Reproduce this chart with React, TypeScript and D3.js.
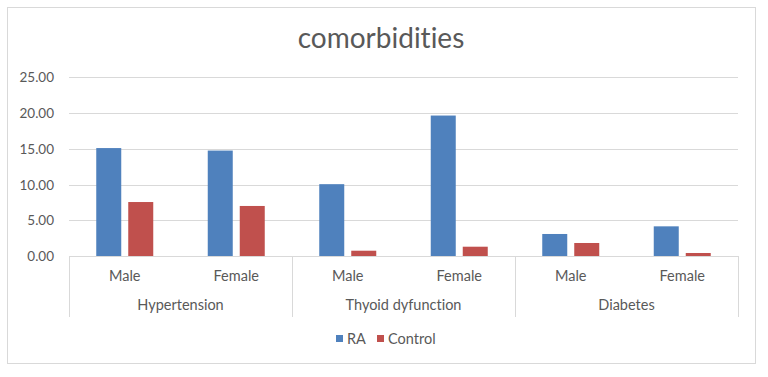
import React from "react";
import * as d3 from "d3";

const groups = ["Hypertension", "Thyoid dyfunction", "Diabetes"];
const subcats = ["Male", "Female"];
const seriesNames = ["RA", "Control"];
const raValues = [15.1, 14.75, 10.05, 19.65, 3.08, 4.15];
const controlValues = [7.55, 7.0, 0.74, 1.3, 1.82, 0.42];
const yTicks = [0, 5, 10, 15, 20, 25];
const colors = ["#4f81bd", "#c0504d"];

const W = 768;
const H = 377;
const plotL = 69;
const plotR = 738;
const plotT = 77.3;
const plotB = 256;
const font = "Lato, 'Open Sans', sans-serif";
const textColor = "#595959";
const noLig = { fontVariantLigatures: "none", fontFeatureSettings: '"liga" 0, "clig" 0, "dlig" 0' } as React.CSSProperties;

export default function App() {
  const y = d3.scaleLinear().domain([0, 25]).range([plotB, plotT]);
  const gx = d3.scaleBand<string>().domain(groups).range([plotL, plotR]).padding(0);
  const sx = d3.scaleBand<string>().domain(subcats).range([0, gx.bandwidth()]).padding(0);
  const barW = 25;
  const gap = 7;
  const series = [raValues, controlValues];

  return (
    <svg width={W} height={H} style={{ position: "absolute", left: 0, top: 0, ...noLig }}>
      <rect x={0} y={0} width={W} height={H} fill="#fff" />
      <rect x={7.5} y={7.5} width={748} height={356} fill="#fff" stroke="#d9d9d9" strokeWidth={1} />
      <text x={381} y={48} textAnchor="middle" fontFamily={font} fontSize={28} fill={textColor} style={noLig}>
        comorbidities
      </text>
      {yTicks.map((t) => (
        <g key={t}>
          {t > 0 && (
            <line x1={plotL} x2={plotR} y1={Math.round(y(t)) + 0.5} y2={Math.round(y(t)) + 0.5} stroke="#d9d9d9" strokeWidth={1} />
          )}
          <text x={54} y={y(t) + 5} textAnchor="end" fontFamily={font} fontSize={13.5} fill={textColor}>
            {t.toFixed(2)}
          </text>
        </g>
      ))}
      {groups.map((g, gi) =>
        subcats.map((s, si) => {
          const idx = gi * 2 + si;
          const cx = (gx(g) as number) + (sx(s) as number) + sx.bandwidth() / 2;
          return (
            <g key={g + s}>
              {series.map((vals, k) => {
                const x0 = cx - (barW * 2 + gap) / 2 + k * (barW + gap);
                return (
                  <rect key={k} x={x0} y={y(vals[idx])} width={barW} height={plotB - y(vals[idx])} fill={colors[k]} />
                );
              })}
              <text x={cx} y={281} textAnchor="middle" fontFamily={font} fontSize={14.5} fill={textColor}>
                {s}
              </text>
            </g>
          );
        })
      )}
      <line x1={plotL} x2={plotR} y1={plotB + 0.5} y2={plotB + 0.5} stroke="#d9d9d9" strokeWidth={1} />
      {[...groups.map((g) => gx(g) as number), plotR].map((xv, i) => (
        <line key={i} x1={Math.round(xv) + 0.5} x2={Math.round(xv) + 0.5} y1={plotB} y2={317} stroke="#d9d9d9" strokeWidth={1} />
      ))}
      {groups.map((g) => (
        <text key={g} x={(gx(g) as number) + gx.bandwidth() / 2} y={310} textAnchor="middle" fontFamily={font} fontSize={14.5} fill={textColor}>
          {g}
        </text>
      ))}
      {seriesNames.map((n, i) => {
        const lx = i === 0 ? 336 : 377;
        return (
          <g key={n}>
            <rect x={lx} y={335} width={7} height={7} fill={colors[i]} />
            <text x={lx + 11} y={344} fontFamily={font} fontSize={14.5} fill={textColor}>
              {n}
            </text>
          </g>
        );
      })}
    </svg>
  );
}
